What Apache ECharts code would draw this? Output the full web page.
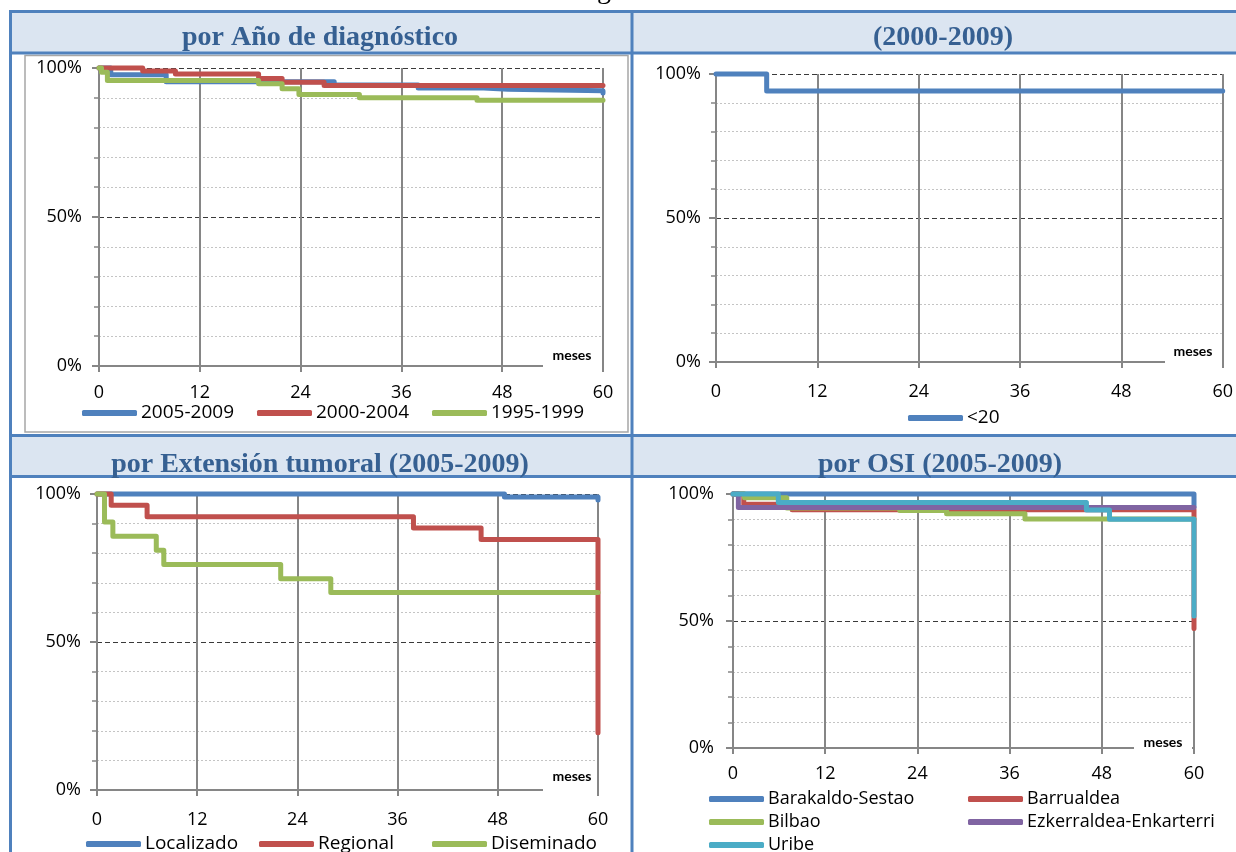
<!DOCTYPE html>
<html>
<head>
<meta charset="utf-8">
<script src="https://cdn.jsdelivr.net/npm/echarts@6/dist/echarts.min.js"></script>
<style>
html,body{margin:0;padding:0;background:#fff;overflow:hidden;}
#c{width:1236px;height:852px;}
</style>
</head>
<body>
<div id="c"></div>
<script>
// ---- tick labels ----
const monthTicks = [0, 12, 24, 36, 48, 60];
const pctTicks = [0, 50, 100];

// ---- panel titles ----
const panelTitles = ['por Año de diagnóstico', '(2000-2009)', 'por Extensión tumoral (2005-2009)', 'por OSI (2005-2009)'];
const axisUnit = 'meses';

// ---- Panel 1: por Año de diagnóstico  [month, survival %] ----
const year2005_2009 = [[0,100],[1.4,97.7],[8,95.4],[28,94.3],[38,93.3],[45.8,92.9],[48.7,92.4],[60,91.6]];
const year2000_2004 = [[0,100],[5.2,99],[9.1,98],[19,96.5],[21.8,95.2],[26.8,94.1],[60,94.1]];
const year1995_1999 = [[0,100],[0.3,98.6],[1,95.8],[19,94.7],[21.8,93],[23.8,91.1],[31,90],[45,89.2],[60,89.2]];

// ---- Panel 2: (2000-2009) ----
const ageLt20 = [[0,100],[6,94.1],[60,94.1]];

// ---- Panel 3: por Extensión tumoral ----
const extLocalizado = [[0,100],[48.8,99],[60,98]];
const extRegional = [[0,100],[1.7,96.2],[6,92.3],[37.9,88.5],[46,84.6],[60,19.3]];
const extDiseminado = [[0,100],[0.9,90.5],[1.9,85.7],[7.1,81],[8,76.2],[22,71.4],[28,66.7],[60,66.7]];

// ---- Panel 4: por OSI ----
const osiBarakaldo = [[0,100],[60,95]];
const osiBarrualdea = [[0,100],[1.4,96],[7.7,93.8],[60,47]];
const osiBilbao = [[0,100],[1.5,98.5],[7,94.5],[21.7,93.5],[27.8,92.2],[38,90.2],[60,90.2]];
const osiEzkerraldea = [[0,100],[0.7,94.7],[60,94.7]];
const osiUribe = [[0,100],[5.9,96.7],[46,93.7],[49,90.1],[60,52]];

// ---- styles ----
const C_BLUE = '#4F81BD', C_RED = '#C0504D', C_GREEN = '#9BBB59', C_PURPLE = '#8064A2', C_CYAN = '#4BACC6';
const GRAY = '#868686';
const FONT = "'Open Sans'";
const BORDER = '#4F81BD';
const HEAD_BG = '#DBE5F1';
const HEAD_TXT = '#366092';

const grids = [
  {left: 99, top: 68, width: 504, height: 298},
  {left: 716, top: 74, width: 507, height: 288},
  {left: 97, top: 494, width: 501, height: 296},
  {left: 733, top: 494, width: 461, height: 254}
];
const xLabelMargin = [18, 21, 21, 17];
const yLabelMargin = [17, 15, 16, 19];

function makeX(i) {
  return {
    gridIndex: i, type: 'value', min: monthTicks[0], max: monthTicks[monthTicks.length - 1],
    interval: monthTicks[1] - monthTicks[0],
    axisLine: {show: true, onZero: false, lineStyle: {color: GRAY, width: 2}},
    axisTick: {show: true, length: 6, lineStyle: {color: GRAY, width: 2}},
    axisLabel: {margin: xLabelMargin[i], fontFamily: FONT, fontSize: 18, color: '#000'},
    splitLine: {show: true, lineStyle: {color: GRAY, width: 2}}
  };
}
function makeY(i) {
  return {
    gridIndex: i, type: 'value', min: pctTicks[0], max: pctTicks[pctTicks.length - 1],
    interval: pctTicks[1] - pctTicks[0],
    axisLine: {show: true, onZero: false, lineStyle: {color: GRAY, width: 2}},
    axisTick: {show: true, length: 7, lineStyle: {color: GRAY, width: 2}},
    minorTick: {show: true, splitNumber: 5, length: 5, lineStyle: {color: GRAY, width: 1.5}},
    minorSplitLine: {show: true, lineStyle: {color: '#C4C4C4', width: 1, type: [2, 2]}},
    splitLine: {show: true, lineStyle: {color: '#3A3A3A', width: 1, type: [5, 3]}},
    axisLabel: {margin: yLabelMargin[i], fontFamily: FONT, fontSize: 18, color: '#000',
      formatter: function (v) { return v + '%'; }}
  };
}
function km(name, data, color, i) {
  return {
    name: name, type: 'line', xAxisIndex: i, yAxisIndex: i, data: data, step: 'end',
    showSymbol: false, symbol: 'none', clip: false, animation: false, silent: true,
    lineStyle: {color: color, width: 5, cap: 'round', join: 'round'},
    itemStyle: {color: color}
  };
}
function legend(names, left, top, textWidth, gap, lineH, fontSize, extra) {
  return Object.assign({
    data: names, left: left, top: top, orient: 'horizontal', icon: 'roundRect', padding: 0,
    itemWidth: 55, itemHeight: 6, itemGap: gap, selectedMode: false,
    textStyle: {fontFamily: FONT, fontSize: fontSize, color: '#000', width: textWidth, lineHeight: lineH, padding: [0, 0, 0, -1]}
  }, extra || {});
}

const series = [
  km('2005-2009', year2005_2009, C_BLUE, 0),
  km('2000-2004', year2000_2004, C_RED, 0),
  km('1995-1999', year1995_1999, C_GREEN, 0),
  km('<20', ageLt20, C_BLUE, 1),
  km('Localizado', extLocalizado, C_BLUE, 2),
  km('Regional', extRegional, C_RED, 2),
  km('Diseminado', extDiseminado, C_GREEN, 2),
  km('Barakaldo-Sestao', osiBarakaldo, C_BLUE, 3),
  km('Barrualdea', osiBarrualdea, C_RED, 3),
  km('Bilbao', osiBilbao, C_GREEN, 3),
  km('Ezkerraldea-Enkarterri', osiEzkerraldea, C_PURPLE, 3),
  km('Uribe', osiUribe, C_CYAN, 3)
];

function line(x1, y1, x2, y2) {
  return {type: 'line', silent: true, z: 50, shape: {x1: x1, y1: y1, x2: x2, y2: y2},
    style: {stroke: BORDER, lineWidth: 3}};
}
function headText(text, x, y) {
  return {type: 'text', silent: true, z: 51,
    style: {text: text, x: x, y: y, fill: HEAD_TXT, font: "bold 28px 'Liberation Serif', serif",
      textAlign: 'center', textVerticalAlign: 'middle'}};
}
function unitBox(x, y, w, h, tx, ty) {
  return [
    {type: 'rect', silent: true, z: 100, shape: {x: x, y: y, width: w, height: h}, style: {fill: '#fff'}},
    {type: 'text', silent: true, z: 101,
      style: {text: axisUnit, x: tx, y: ty, fill: '#000', font: 'bold 14px Lato',
        textAlign: 'center', textVerticalAlign: 'middle'}}
  ];
}

const graphic = [
  {type: 'rect', silent: true, z: 40, shape: {x: 10, y: 12, width: 1226, height: 41}, style: {fill: HEAD_BG}},
  {type: 'rect', silent: true, z: 40, shape: {x: 10, y: 435, width: 1226, height: 42}, style: {fill: HEAD_BG}},
  {type: 'rect', silent: true, z: 40, shape: {x: 25, y: 55.5, width: 603, height: 376.5},
    style: {fill: null, stroke: '#A6A6A6', lineWidth: 1.5}},
  line(9, 11.5, 1236, 11.5),
  line(9, 53, 1236, 53),
  line(9, 435.5, 1236, 435.5),
  line(9, 476.5, 1236, 476.5),
  line(10.5, 10, 10.5, 852),
  line(632, 10, 632, 852),
  headText(panelTitles[0], 320, 38),
  headText(panelTitles[1], 943, 38),
  headText(panelTitles[2], 320, 465),
  headText(panelTitles[3], 940, 465),
  {type: 'text', silent: true, z: 51,
    style: {text: 'g', x: 604, y: 5, fill: '#000', font: "28px 'Liberation Serif', serif",
      textAlign: 'center', textVerticalAlign: 'bottom'}}
].concat(
  unitBox(543, 345, 59, 22, 572, 355),
  unitBox(1165, 341, 57, 22, 1193, 351),
  unitBox(543, 761, 54, 30, 572, 776),
  unitBox(1134, 728, 58, 21, 1163, 742)
);

const option = {
  animation: false,
  backgroundColor: '#fff',
  grid: grids,
  xAxis: [makeX(0), makeX(1), makeX(2), makeX(3)],
  yAxis: [makeY(0), makeY(1), makeY(2), makeY(3)],
  legend: [
    legend(['2005-2009', '2000-2004', '1995-1999'], 82, 403, 101, 15, 20, 19),
    legend(['<20'], 908, 408, 40, 15, 20, 19),
    legend(['Localizado', 'Regional', 'Diseminado'], 86, 834, 99, 15, 20, 19),
    legend(['Barakaldo-Sestao', 'Barrualdea', 'Bilbao', 'Ezkerraldea-Enkarterri', 'Uribe'], 709, 790, 195, 5, 16, 18,
      {width: 520})
  ],
  series: series,
  graphic: graphic
};

const chart = echarts.init(document.getElementById('c'), null, {renderer: 'canvas'});
chart.setOption(option);
</script>
</body>
</html>
